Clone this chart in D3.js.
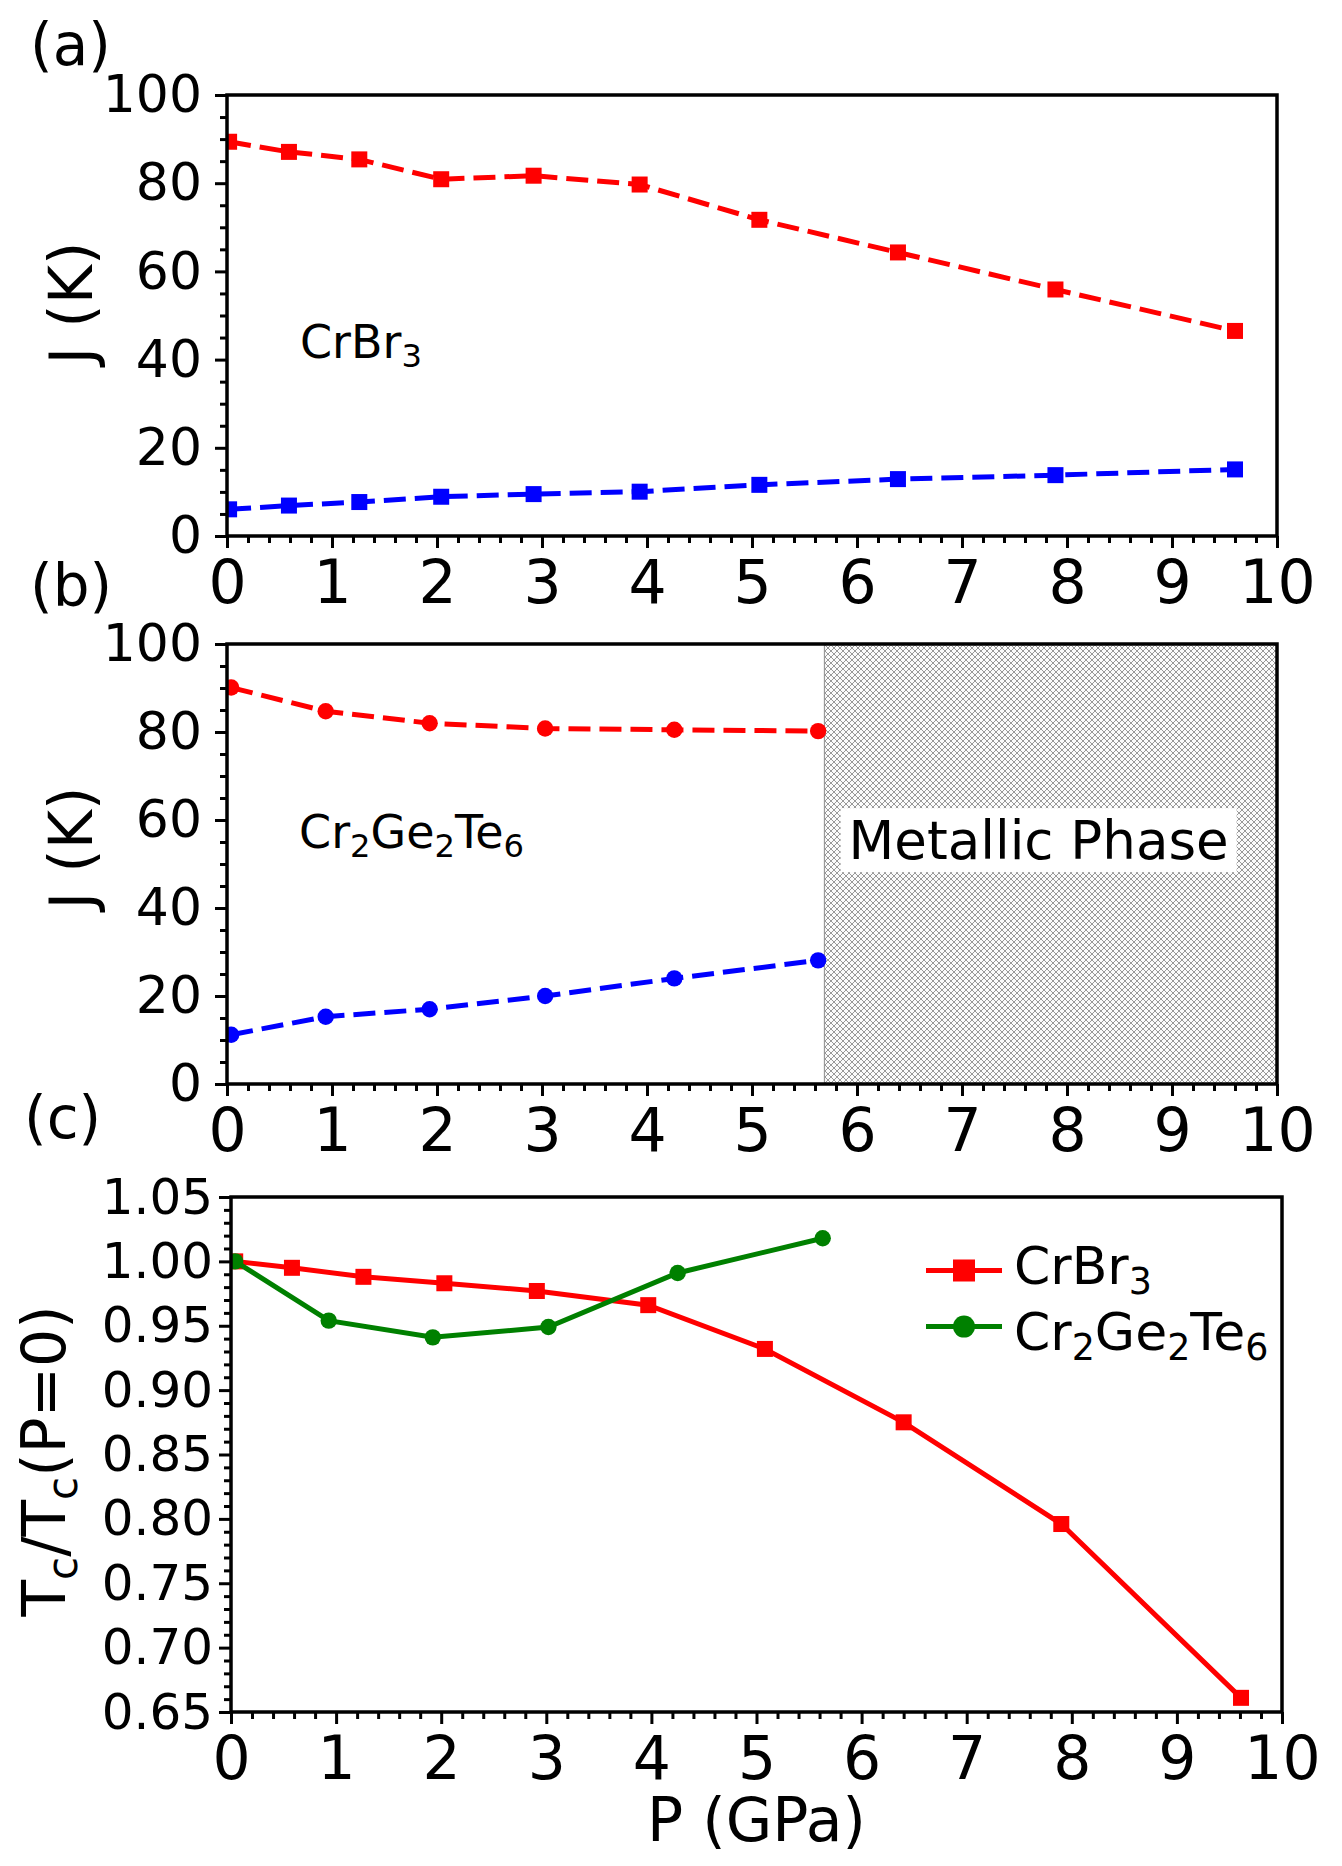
<!DOCTYPE html>
<html>
<head>
<meta charset="utf-8">
<script src="https://cdn.jsdelivr.net/npm/d3@7"></script>
<style>
  body { margin: 0; background: #fff; }
  svg { display: block; font-family: "DejaVu Sans", sans-serif; }
</style>
</head>
<body>
<svg id="fig" width="1342" height="1866"></svg>
<script>
// (a) CrBr3 exchange couplings vs pressure
var pressureA = [0.02, 0.59, 1.26, 2.04, 2.92, 3.93, 5.07, 6.39, 7.89, 9.60];
var jRedA     = [89.4, 87.1, 85.4, 80.9, 81.7, 79.7, 71.7, 64.3, 55.9, 46.5];
var jBlueA    = [6.05, 6.9, 7.7, 8.9, 9.5, 10.05, 11.6, 12.9, 13.8, 15.1];

// (b) Cr2Ge2Te6
var pressureB = [0.04, 0.94, 1.93, 3.03, 4.26, 5.63];
var jRedB     = [90.1, 84.7, 82.0, 80.8, 80.5, 80.2];
var jBlueB    = [11.2, 15.3, 17.0, 20.0, 24.0, 28.1];
var metallicStart = 5.69;

// (c) normalised Tc
var pressureCr  = [0.04, 0.58, 1.26, 2.03, 2.91, 3.97, 5.08, 6.40, 7.90, 9.61];
var tcCr        = [1.000, 0.995, 0.988, 0.983, 0.977, 0.966, 0.932, 0.875, 0.796, 0.661];
var pressureCgt = [0.04, 0.93, 1.92, 3.02, 4.25, 5.63];
var tcCgt       = [1.000, 0.954, 0.941, 0.949, 0.991, 1.018];

var xTicks  = [0, 1, 2, 3, 4, 5, 6, 7, 8, 9, 10];
var jTicks  = [0, 20, 40, 60, 80, 100];
var tcTicks = [0.65, 0.70, 0.75, 0.80, 0.85, 0.90, 0.95, 1.00, 1.05];

var svg = d3.select("#fig");
var defs = svg.append("defs");

var pat = defs.append("pattern")
  .attr("id", "hatch")
  .attr("patternUnits", "userSpaceOnUse")
  .attr("width", 6).attr("height", 6);
pat.append("rect").attr("width", 6).attr("height", 6).attr("fill", "#fbfbfb");
pat.append("path")
  .attr("d", "M-1,-1L7,7M7,-1L-1,7")
  .attr("stroke", "#999")
  .attr("stroke-width", 1);

function richText(sel, parts, size) {
  var off = 0;
  parts.forEach(function(p) {
    var target = p.sub ? size * 0.2 : 0;
    sel.append("tspan")
      .attr("font-size", p.sub ? size * 0.7 : size)
      .attr("dy", target - off)
      .text(p.s);
    off = target;
  });
  return sel;
}

function makePanel(p) {
  var x = d3.scaleLinear().domain([0, 10]).range([p.left, p.right]);
  var y = d3.scaleLinear().domain(p.yDomain).range([p.bottom, p.top]);
  var g = svg.append("g");

  defs.append("clipPath").attr("id", p.id)
    .append("rect")
    .attr("x", p.left).attr("y", p.top)
    .attr("width", p.right - p.left).attr("height", p.bottom - p.top);

  var xMinor = d3.range(0, 10.001, 0.2).filter(function(d) { return Math.abs(d - Math.round(d)) > 0.01; });
  var yMinor = d3.range(p.yDomain[0], p.yDomain[1] + p.yMinorStep / 2, p.yMinorStep)
    .filter(function(d) { return !p.yTicks.some(function(t) { return Math.abs(t - d) < p.yMinorStep / 4; }); });

  var xa = g.append("g").attr("transform", "translate(0," + p.bottom + ")")
    .call(d3.axisBottom(x).tickValues(xTicks).tickSize(12).tickPadding(12).tickFormat(d3.format("d")));
  var xm = g.append("g").attr("transform", "translate(0," + p.bottom + ")")
    .call(d3.axisBottom(x).tickValues(xMinor).tickSize(7).tickFormat(""));
  var ya = g.append("g").attr("transform", "translate(" + p.left + ",0)")
    .call(d3.axisLeft(y).tickValues(p.yTicks).tickSize(12).tickPadding(p.yPad).tickFormat(p.yFmt));
  var ym = g.append("g").attr("transform", "translate(" + p.left + ",0)")
    .call(d3.axisLeft(y).tickValues(yMinor).tickSize(7).tickFormat(""));

  [xa, xm, ya, ym].forEach(function(a) {
    a.select(".domain").remove();
    a.selectAll(".tick line").attr("stroke", "#000").attr("stroke-width", 3);
    a.selectAll("text").attr("fill", "#000").attr("font-family", "DejaVu Sans");
  });
  xa.selectAll("text").attr("font-size", 60);
  ya.selectAll("text").attr("font-size", p.yFont);

  var plot = g.append("g").attr("clip-path", "url(#" + p.id + ")");
  return { x: x, y: y, g: g, plot: plot, p: p };
}

function frame(panel) {
  var p = panel.p;
  panel.g.append("rect")
    .attr("x", p.left).attr("y", p.top)
    .attr("width", p.right - p.left).attr("height", p.bottom - p.top)
    .attr("fill", "none").attr("stroke", "#000").attr("stroke-width", 3.5);
}

function series(panel, xs, ys, color, marker, dashed) {
  var pts = xs.map(function(d, i) { return [d, ys[i]]; });
  var line = d3.line()
    .x(function(d) { return panel.x(d[0]); })
    .y(function(d) { return panel.y(d[1]); });
  panel.plot.append("path")
    .datum(pts)
    .attr("d", line)
    .attr("fill", "none")
    .attr("stroke", color)
    .attr("stroke-width", 5)
    .attr("stroke-dasharray", dashed ? "22,9" : null);
  if (marker === "square") {
    panel.plot.selectAll(null).data(pts).enter().append("rect")
      .attr("x", function(d) { return panel.x(d[0]) - 8; })
      .attr("y", function(d) { return panel.y(d[1]) - 8; })
      .attr("width", 16).attr("height", 16)
      .attr("fill", color);
  } else {
    panel.plot.selectAll(null).data(pts).enter().append("circle")
      .attr("cx", function(d) { return panel.x(d[0]); })
      .attr("cy", function(d) { return panel.y(d[1]); })
      .attr("r", 8.2)
      .attr("fill", color);
  }
}

function yTitle(x, y, parts, size) {
  var t = svg.append("text")
    .attr("transform", "translate(" + x + "," + y + ") rotate(-90)")
    .attr("text-anchor", "middle")
    .attr("font-size", size)
    .attr("fill", "#000");
  richText(t, parts, size);
}

// ---------- (a) ----------
var pa = makePanel({ id: "clipA", left: 227, right: 1277, top: 95, bottom: 536,
  yDomain: [0, 100], yTicks: jTicks, yMinorStep: 5, yFmt: d3.format("d"), yFont: 52, yPad: 13 });
series(pa, pressureA, jRedA, "#ff0000", "square", true);
series(pa, pressureA, jBlueA, "#0000ff", "square", true);
richText(svg.append("text").attr("x", pa.x(0.695)).attr("y", pa.y(40.4)).attr("fill", "#000"),
  [{ s: "CrBr" }, { s: "3", sub: true }], 46);
frame(pa);
yTitle(92, 303, [{ s: "J (K)" }], 60);

// ---------- (b) ----------
var pb = makePanel({ id: "clipB", left: 227, right: 1277, top: 644, bottom: 1084,
  yDomain: [0, 100], yTicks: jTicks, yMinorStep: 5, yFmt: d3.format("d"), yFont: 52, yPad: 13 });
pb.plot.append("rect")
  .attr("x", pb.x(metallicStart)).attr("y", pb.y(100))
  .attr("width", pb.x(10) - pb.x(metallicStart)).attr("height", pb.y(0) - pb.y(100))
  .attr("fill", "url(#hatch)").attr("stroke", "#999").attr("stroke-width", 1.2);
series(pb, pressureB, jRedB, "#ff0000", "circle", true);
series(pb, pressureB, jBlueB, "#0000ff", "circle", true);
richText(svg.append("text").attr("x", pb.x(0.686)).attr("y", pb.y(53.6)).attr("fill", "#000"),
  [{ s: "Cr" }, { s: "2", sub: true }, { s: "Ge" }, { s: "2", sub: true }, { s: "Te" }, { s: "6", sub: true }], 46);
var mBox = svg.append("rect").attr("fill", "#fff");
var mText = svg.append("text")
  .attr("x", pb.x(5.92)).attr("y", pb.y(51.1))
  .attr("font-size", 53).attr("fill", "#000")
  .text("Metallic Phase");
var bb = mText.node().getBBox();
mBox.attr("x", bb.x - 8).attr("y", bb.y - 2).attr("width", bb.width + 16).attr("height", bb.height + 3);
frame(pb);
yTitle(92, 848, [{ s: "J (K)" }], 60);

// ---------- (c) ----------
var pc = makePanel({ id: "clipC", left: 231, right: 1282, top: 1197, bottom: 1712,
  yDomain: [0.65, 1.05], yTicks: tcTicks, yMinorStep: 0.01, yFmt: d3.format(".2f"), yFont: 50, yPad: 6 });
series(pc, pressureCr, tcCr, "#ff0000", "square", false);
series(pc, pressureCgt, tcCgt, "#008000", "circle", false);
frame(pc);
yTitle(65, 1461, [{ s: "T" }, { s: "c", sub: true }, { s: "/T" }, { s: "c", sub: true }, { s: "(P=0)" }], 60);
svg.append("text")
  .attr("x", (pc.p.left + pc.p.right) / 2).attr("y", 1841)
  .attr("text-anchor", "middle").attr("font-size", 60).attr("fill", "#000")
  .text("P (GPa)");

// legend
var legendNames = [
  [{ s: "CrBr" }, { s: "3", sub: true }],
  [{ s: "Cr" }, { s: "2", sub: true }, { s: "Ge" }, { s: "2", sub: true }, { s: "Te" }, { s: "6", sub: true }]
];
var legendColors = ["#ff0000", "#008000"];
var legendMarkers = ["square", "circle"];
var legendLineY = [1270.5, 1326.6];
var legendTextY = [1283.5, 1350];
legendNames.forEach(function(name, i) {
  var gy = legendLineY[i];
  svg.append("line").attr("x1", 926).attr("x2", 1002).attr("y1", gy).attr("y2", gy)
    .attr("stroke", legendColors[i]).attr("stroke-width", 5);
  if (legendMarkers[i] === "square") {
    svg.append("rect").attr("x", 964 - 11).attr("y", gy - 11).attr("width", 22).attr("height", 22)
      .attr("fill", legendColors[i]);
  } else {
    svg.append("circle").attr("cx", 964).attr("cy", gy).attr("r", 11).attr("fill", legendColors[i]);
  }
  richText(svg.append("text").attr("x", 1014).attr("y", legendTextY[i]).attr("fill", "#000"), name, 52);
});

// panel letters
var panelLetters = ["(a)", "(b)", "(c)"];
var letterPos = [[30, 65], [30, 606], [24, 1138]];
panelLetters.forEach(function(s, i) {
  svg.append("text").attr("x", letterPos[i][0]).attr("y", letterPos[i][1])
    .attr("font-size", 58).attr("fill", "#000").text(s);
});
</script>
</body>
</html>
